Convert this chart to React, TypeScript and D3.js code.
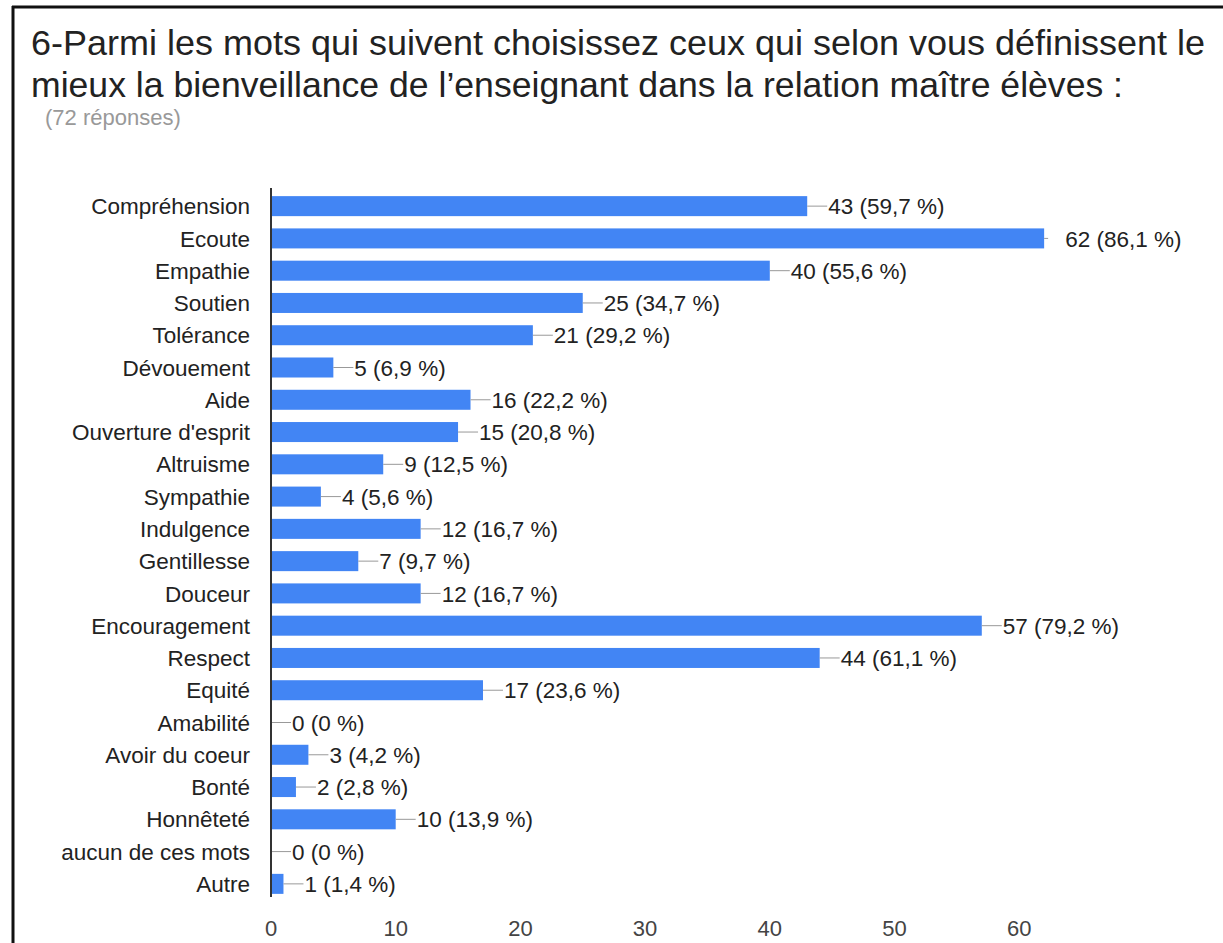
import React from 'react';
import * as d3 from 'd3';

const categories = [
  'Compréhension', 'Ecoute', 'Empathie', 'Soutien', 'Tolérance', 'Dévouement',
  'Aide', "Ouverture d'esprit", 'Altruisme', 'Sympathie', 'Indulgence',
  'Gentillesse', 'Douceur', 'Encouragement', 'Respect', 'Equité', 'Amabilité',
  'Avoir du coeur', 'Bonté', 'Honnêteté', 'aucun de ces mots', 'Autre'
];
const counts = [43, 62, 40, 25, 21, 5, 16, 15, 9, 4, 12, 7, 12, 57, 44, 17, 0, 3, 2, 10, 0, 1];
const percents = ['59,7', '86,1', '55,6', '34,7', '29,2', '6,9', '22,2', '20,8', '12,5', '5,6',
  '16,7', '9,7', '16,7', '79,2', '61,1', '23,6', '0', '4,2', '2,8', '13,9', '0', '1,4'];
const ticks = [0, 10, 20, 30, 40, 50, 60];

const title1 = '6-Parmi les mots qui suivent choisissez ceux qui selon vous définissent le';
const title2 = 'mieux la bienveillance de l\u2019enseignant dans la relation maître élèves :';
const subtitle = '(72 réponses)';

export default function App() {
  const width = 1223;
  const height = 943;
  const x0 = 271;
  const x = d3.scaleLinear().domain([0, 10]).range([x0, x0 + 124.7]);
  const y = d3.scaleBand().domain(categories).range([190, 900]).paddingInner(0.38).paddingOuter(0.19);
  const maxCount = d3.max(counts) as number;
  const font = 'Arial, "Liberation Sans", sans-serif';

  return (
    <svg width={width} height={height} style={{ position: 'absolute', left: 0, top: 0, background: '#fff' }}
         fontFamily={font}>
      <line x1={12} y1={7} x2={width} y2={7} stroke="#111" strokeWidth={3} />
      <line x1={13} y1={6} x2={13} y2={height} stroke="#111" strokeWidth={3} />
      <text x={31} y={55} fontSize={35.8} fill="#222" textLength={1174} lengthAdjust="spacingAndGlyphs">{title1}</text>
      <text x={31} y={97} fontSize={35.8} fill="#222" textLength={1092} lengthAdjust="spacingAndGlyphs">{title2}</text>
      <text x={45} y={125} fontSize={22} fill="#999">{subtitle}</text>

      {categories.map((c, i) => {
        const cy = (y(c) as number) + y.bandwidth() / 2;
        const xe = x(counts[i]);
        const isMax = counts[i] === maxCount;
        return (
          <g key={c}>
            <text x={250} y={cy} dy="0.36em" textAnchor="end" fontSize={22.5} fill="#222">{c}</text>
            {counts[i] > 0 && (
              <rect x={x0} y={y(c)} width={xe - x0} height={y.bandwidth()} fill="#4285f4" />
            )}
            <line x1={xe} y1={cy} x2={isMax ? xe + 4 : xe + 20} y2={cy} stroke="#999" strokeWidth={1} />
            <text x={xe + 21} y={cy} dy="0.36em" fontSize={22.5} fill="#222">
              {`${counts[i]} (${percents[i]} %)`}
            </text>
          </g>
        );
      })}

      <line x1={x0} y1={188} x2={x0} y2={897} stroke="#333" strokeWidth={2} />
      {ticks.map(t => (
        <text key={t} x={x(t)} y={936} textAnchor="middle" fontSize={22} fill="#444">{t}</text>
      ))}
    </svg>
  );
}
